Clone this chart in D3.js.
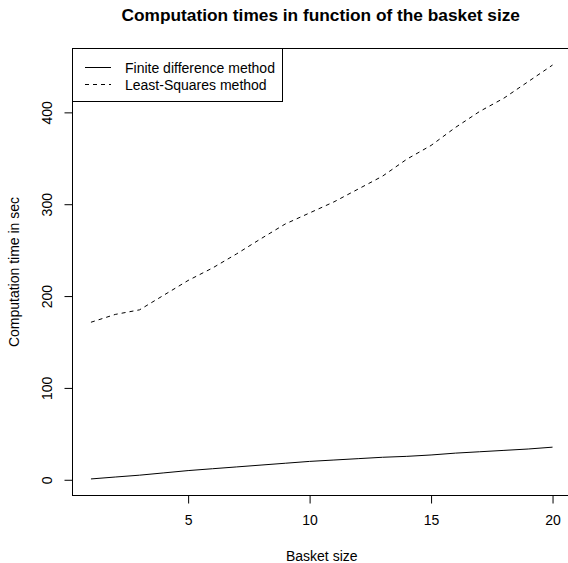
<!DOCTYPE html>
<html>
<head>
<meta charset="utf-8">
<script src="https://cdn.jsdelivr.net/npm/d3@7"></script>
<style>
    body { margin: 0; background: #fff; }
    text { font-family: "Liberation Sans", Arial, sans-serif; fill: #000; }
</style>
</head>
<body>
<div id="chart"></div>
<script>
// Basket sizes and computation times (sec)
let basketSize = [1, 2, 3, 4, 5, 6, 7, 8, 9, 10, 11, 12, 13, 14, 15, 16, 17, 18, 19, 20];
let finiteDiff = [0.9, 3, 5, 7.5, 10, 12, 14, 16, 18, 20, 21.5, 23, 24.5, 25.5, 27, 29, 30.5, 32, 33.5, 35.5];
let leastSquares = [171.5, 180, 185, 201, 217, 230.5, 246, 262.5, 278.5, 290.5, 302.5, 316.5, 330.5, 349, 364, 383.5, 401, 415.5, 433.5, 451.5];
let xTicks = [5, 10, 15, 20];
let yTicks = [0, 100, 200, 300, 400];
let legendLabels = ["Finite difference method", "Least-Squares method"];

let width = 568, height = 563;
let box = {left: 72.5, top: 48.5, right: 571, bottom: 495.5};
let fontSize = "14px";

let svg = d3.select("#chart")
    .append("svg")
    .attr("width", width)
    .attr("height", height);

// R style axis ranges: data range stretched by 4% on each side
function rRange(values) {
    let ext = d3.extent(values);
    let pad = (ext[1] - ext[0]) * 0.04;
    return [ext[0] - pad, ext[1] + pad];
}

let x = d3.scaleLinear()
    .domain(rRange(basketSize))
    .range([box.left, box.right]);

let y = d3.scaleLinear()
    .domain(rRange(finiteDiff.concat(leastSquares)))
    .range([box.bottom, box.top]);

let line = d3.line()
    .x(function (d, i) { return x(basketSize[i]); })
    .y(function (d) { return y(d); });

// Series
svg.append("path")
    .datum(finiteDiff)
    .attr("d", line)
    .attr("fill", "none")
    .attr("stroke", "#000")
    .attr("stroke-width", 1);

svg.append("path")
    .datum(leastSquares)
    .attr("d", line)
    .attr("fill", "none")
    .attr("stroke", "#000")
    .attr("stroke-width", 1)
    .attr("stroke-dasharray", "4,4");

// Plot box
svg.append("rect")
    .attr("x", box.left)
    .attr("y", box.top)
    .attr("width", box.right - box.left)
    .attr("height", box.bottom - box.top)
    .attr("fill", "none")
    .attr("stroke", "#000");

// X axis
let xAxis = svg.append("g")
    .attr("transform", "translate(0," + box.bottom + ")")
    .call(d3.axisBottom(x).tickValues(xTicks).tickSize(8).tickPadding(12));
xAxis.select(".domain").remove();
xAxis.selectAll("line").attr("stroke", "#000");
xAxis.selectAll("text")
    .style("font-size", fontSize)
    .style("font-family", "'Liberation Sans', Arial, sans-serif");

// Y axis, labels rotated like R's default
let yAxis = svg.append("g")
    .attr("transform", "translate(" + box.left + ",0)")
    .call(d3.axisLeft(y).tickValues(yTicks).tickSize(8));
yAxis.select(".domain").remove();
yAxis.selectAll("line").attr("stroke", "#000");
yAxis.selectAll("text")
    .attr("x", null)
    .attr("dy", null)
    .attr("transform", "translate(-20.5,0) rotate(-90)")
    .attr("text-anchor", "middle")
    .style("font-size", fontSize)
    .style("font-family", "'Liberation Sans', Arial, sans-serif");

// Title and axis labels
svg.append("text")
    .attr("x", (box.left + box.right) / 2 - 1)
    .attr("y", 21)
    .attr("text-anchor", "middle")
    .style("font-size", "17.3px")
    .style("font-weight", "bold")
    .text("Computation times in function of the basket size");

svg.append("text")
    .attr("x", (box.left + box.right) / 2)
    .attr("y", 560.5)
    .attr("text-anchor", "middle")
    .style("font-size", fontSize)
    .text("Basket size");

svg.append("text")
    .attr("transform", "translate(19," + (box.top + box.bottom) / 2 + ") rotate(-90)")
    .attr("text-anchor", "middle")
    .style("font-size", fontSize)
    .text("Computation time in sec");

// Legend
let legend = svg.append("g");
legend.append("rect")
    .attr("x", box.left)
    .attr("y", box.top)
    .attr("width", 210)
    .attr("height", 53)
    .attr("fill", "#fff")
    .attr("stroke", "#000");

let rows = legend.selectAll(".legend")
    .data(legendLabels)
    .enter()
    .append("g")
    .attr("class", "legend")
    .attr("transform", function (d, i) {
        return "translate(0," + (67.5 + i * 17) + ")";
    });

rows.append("line")
    .attr("x1", 85)
    .attr("x2", 111)
    .attr("stroke", "#000")
    .attr("stroke-dasharray", function (d, i) { return i === 1 ? "4,4" : null; });

rows.append("text")
    .attr("x", 125)
    .attr("dy", "0.38em")
    .style("font-size", fontSize)
    .text(function (d) { return d; });
</script>
</body>
</html>
